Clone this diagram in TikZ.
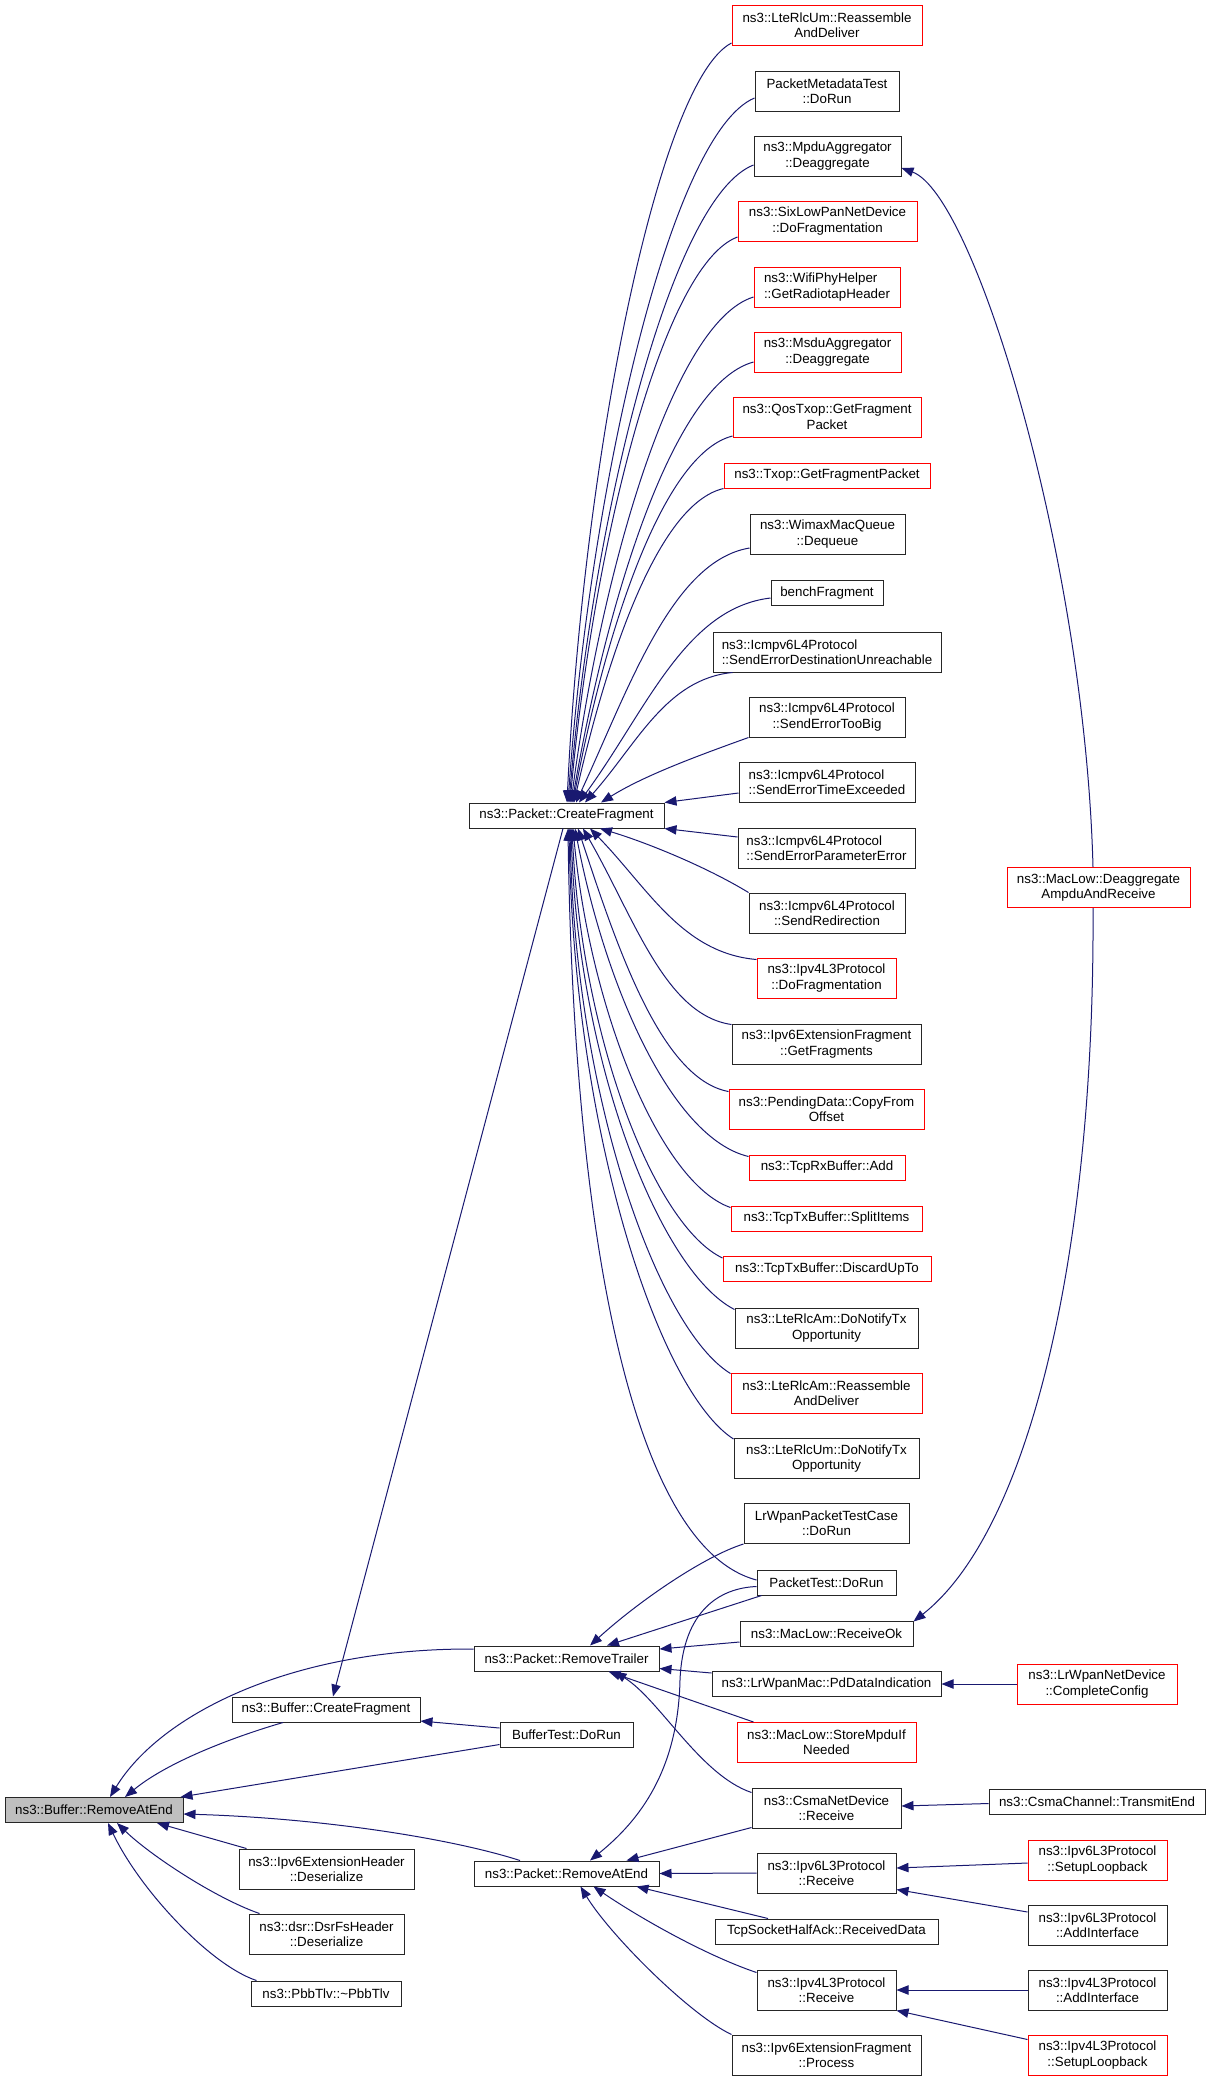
\documentclass[tikz,border=0pt]{standalone}
\usepackage{fontspec}
\setmainfont{Liberation Sans}
\usetikzlibrary{arrows.meta,calc}
\definecolor{midnightblue}{RGB}{25,25,112}
\begin{document}
\begin{tikzpicture}[x=0.75pt,y=-0.75pt,boxw/.style={minimum width=#1*0.75pt}]
    \tikzstyle{every node}+=[inner sep=1pt,font=\fontsize{10}{11.5}\selectfont]
    \tikzstyle{fn}=[draw=black!85,line width=0.75pt,minimum height=18.75pt,align=center]
    \tikzstyle{fn2}=[fn,minimum height=30pt]
    \tikzstyle{hot}=[draw=red]
    \tikzstyle{root}=[fill=black!25]
    \tikzstyle{call}=[midnightblue,line width=0.75pt,-{Triangle[length=9pt,width=7pt]}]
    \useasboundingbox (0,0) rectangle (1211,2081);
    \node [fn,root,boxw=178] (b0) at (94,1810) {ns3::Buffer::RemoveAtEnd};
    \node [fn,boxw=188] (bufCF) at (326,1709.5) {ns3::Buffer::CreateFragment};
    \node [fn2,boxw=175] (extHdr) at (326.5,1869) {ns3::Ipv6ExtensionHeader\\::Deserialize};
    \node [fn2,boxw=155] (dsrFs) at (326.5,1934) {ns3::dsr::DsrFsHeader\\::Deserialize};
    \node [fn,boxw=150] (pbbTlv) at (326,1993.5) {ns3::PbbTlv::\textasciitilde PbbTlv};
    \node [fn,boxw=195] (pktCF) at (566.5,815.5) {ns3::Packet::CreateFragment};
    \node [fn,boxw=185] (pktRT) at (566.5,1658.5) {ns3::Packet::RemoveTrailer};
    \node [fn,boxw=133] (bufTest) at (566.5,1734.5) {BufferTest::DoRun};
    \node [fn,boxw=185] (pktRAE) at (566.5,1873.5) {ns3::Packet::RemoveAtEnd};
    \node [fn2,hot,boxw=190] (umRD) at (827,25) {ns3::LteRlcUm::Reassemble\\AndDeliver};
    \node [fn2,boxw=144] (pmTest) at (827,91) {PacketMetadataTest\\::DoRun};
    \node [fn2,boxw=147] (mpduDeagg) at (827.5,156) {ns3::MpduAggregator\\::Deaggregate};
    \node [fn2,hot,boxw=179] (sixLowPan) at (827.5,221) {ns3::SixLowPanNetDevice\\::DoFragmentation};
    \node [fn2,hot,boxw=146,align=left] (wifiPhy) at (827,287) {ns3::WifiPhyHelper\\::GetRadiotapHeader};
    \node [fn2,hot,boxw=147] (msduDeagg) at (827.5,352) {ns3::MsduAggregator\\::Deaggregate};
    \node [fn2,hot,boxw=188] (qosTxop) at (827,417) {ns3::QosTxop::GetFragment\\Packet};
    \node [fn,hot,boxw=206] (txop) at (827,475.5) {ns3::Txop::GetFragmentPacket};
    \node [fn2,boxw=155] (wimaxQ) at (827.5,534) {ns3::WimaxMacQueue\\::Dequeue};
    \node [fn,boxw=112] (bench) at (827,593) {benchFragment};
    \node [fn2,boxw=228,align=left] (icmpDU) at (827,652) {ns3::Icmpv6L4Protocol\\::SendErrorDestinationUnreachable};
    \node [fn2,boxw=156] (icmpTB) at (827,717) {ns3::Icmpv6L4Protocol\\::SendErrorTooBig};
    \node [fn2,boxw=176,align=left] (icmpTE) at (827,782) {ns3::Icmpv6L4Protocol\\::SendErrorTimeExceeded};
    \node [fn2,boxw=177,align=left] (icmpPE) at (826.5,848) {ns3::Icmpv6L4Protocol\\::SendErrorParameterError};
    \node [fn2,boxw=156] (icmpRD) at (827,913) {ns3::Icmpv6L4Protocol\\::SendRedirection};
    \node [fn2,hot,boxw=139] (ipv4DF) at (826.5,978) {ns3::Ipv4L3Protocol\\::DoFragmentation};
    \node [fn2,boxw=189] (ipv6GF) at (826.5,1044) {ns3::Ipv6ExtensionFragment\\::GetFragments};
    \node [fn2,hot,boxw=195] (pdCopy) at (826.5,1109) {ns3::PendingData::CopyFrom\\Offset};
    \node [fn,hot,boxw=156] (rxAdd) at (827,1167.5) {ns3::TcpRxBuffer::Add};
    \node [fn,hot,boxw=191] (txSplit) at (826.5,1218.5) {ns3::TcpTxBuffer::SplitItems};
    \node [fn,hot,boxw=208] (txDiscard) at (827,1269) {ns3::TcpTxBuffer::DiscardUpTo};
    \node [fn2,boxw=183] (amNotify) at (826.5,1328) {ns3::LteRlcAm::DoNotifyTx\\Opportunity};
    \node [fn2,hot,boxw=191] (amRD) at (826.5,1393) {ns3::LteRlcAm::Reassemble\\AndDeliver};
    \node [fn2,boxw=185] (umNotify) at (826.5,1458.5) {ns3::LteRlcUm::DoNotifyTx\\Opportunity};
    \node [fn2,boxw=165] (lrTest) at (826.5,1523.5) {LrWpanPacketTestCase\\::DoRun};
    \node [fn,boxw=139] (pktTest) at (826.5,1582.5) {PacketTest::DoRun};
    \node [fn,boxw=173] (rxOk) at (826.5,1633.5) {ns3::MacLow::ReceiveOk};
    \node [fn,boxw=229] (pdData) at (826.5,1684) {ns3::LrWpanMac::PdDataIndication};
    \node [fn2,hot,boxw=179] (storeMpdu) at (826.5,1742.5) {ns3::MacLow::StoreMpduIf\\Needed};
    \node [fn2,boxw=149] (csmaRx) at (826.5,1808) {ns3::CsmaNetDevice\\::Receive};
    \node [fn2,boxw=139] (ipv6Rx) at (826.5,1873) {ns3::Ipv6L3Protocol\\::Receive};
    \node [fn,boxw=223] (halfAck) at (826.5,1931.5) {TcpSocketHalfAck::ReceivedData};
    \node [fn2,boxw=139] (ipv4Rx) at (826.5,1990) {ns3::Ipv4L3Protocol\\::Receive};
    \node [fn2,boxw=189] (ipv6Proc) at (826.5,2055) {ns3::Ipv6ExtensionFragment\\::Process};
    \node [fn2,hot,boxw=183] (macDeagg) at (1098.5,887.5) {ns3::MacLow::Deaggregate\\AmpduAndReceive};
    \node [fn2,hot,boxw=160] (lrCC) at (1097,1684) {ns3::LrWpanNetDevice\\::CompleteConfig};
    \node [fn,boxw=216] (csmaTE) at (1097,1801.5) {ns3::CsmaChannel::TransmitEnd};
    \node [fn2,hot,boxw=139] (ipv6Loop) at (1097.5,1860) {ns3::Ipv6L3Protocol\\::SetupLoopback};
    \node [fn2,boxw=139] (ipv6Add) at (1097.5,1925) {ns3::Ipv6L3Protocol\\::AddInterface};
    \node [fn2,boxw=139] (ipv4Add) at (1097.5,1990) {ns3::Ipv4L3Protocol\\::AddInterface};
    \node [fn2,hot,boxw=139] (ipv4Loop) at (1097.5,2055) {ns3::Ipv4L3Protocol\\::SetupLoopback};
    \draw [call] ($(umRD.west)+(0,18)$) .. controls (658,81) and (583,461) .. ($(pktCF.north)+(0.5,0)$);
    \draw [call] ($(pmTest.west)+(0,7)$) .. controls (671,133) and (590,486) .. ($(pktCF.north)+(1.5,0)$);
    \draw [call] ($(mpduDeagg.west)+(0,9)$) .. controls (671,197) and (593,516) .. ($(pktCF.north)+(2.5,0)$);
    \draw [call] ($(sixLowPan.west)+(0,16)$) .. controls (662,265) and (593,548) .. ($(pktCF.north)+(3.5,0)$);
    \draw [call] ($(wifiPhy.west)+(0,10)$) .. controls (672,322) and (601,575) .. ($(pktCF.north)+(4.5,0)$);
    \draw [call] ($(msduDeagg.west)+(0,10)$) .. controls (672,384) and (606,605) .. ($(pktCF.north)+(5.5,0)$);
    \draw [call] ($(qosTxop.west)+(0,19)$) .. controls (661,454) and (604,638) .. ($(pktCF.north)+(6.5,0)$);
    \draw [call] (txop.south west) .. controls (657,504) and (606,661) .. ($(pktCF.north)+(7.5,0)$);
    \draw [call] ($(wimaxQ.west)+(0,14)$) .. controls (672,561) and (629,688) .. ($(pktCF.north)+(9.5,0)$);
    \draw [call] ($(bench.west)+(0,5)$) .. controls (685,608) and (646,711) .. ($(pktCF.north)+(12.5,0)$);
    \draw [call] ($(icmpDU.south west)+(20,0)$) .. controls (666,679) and (637,744) .. ($(pktCF.north)+(18.5,0)$);
    \draw [call] (icmpTB.south west) .. controls (700,755) and (645,775) .. ($(pktCF.north)+(34.5,0)$);
    \draw [call] ($(icmpTE.west)+(0,11)$) -- (pktCF.north east);
    \draw [call] ($(icmpPE.west)+(0,-11)$) -- (pktCF.south east);
    \draw [call] (icmpRD.north west) .. controls (705,866) and (645,842) .. ($(pktCF.south)+(33.5,0)$);
    \draw [call] ($(ipv4DF.north west)+(0,2)$) .. controls (682,953) and (648,888) .. ($(pktCF.south)+(23.5,0)$);
    \draw [call] ($(ipv6GF.north west)+(0,1)$) .. controls (665,1015) and (634,917) .. ($(pktCF.south)+(16.5,0)$);
    \draw [call] ($(pdCopy.north west)+(0,3)$) .. controls (661,1079) and (617,947) .. ($(pktCF.south)+(11.5,0)$);
    \draw [call] ($(rxAdd.north west)+(0,2)$) .. controls (671,1138) and (605,985) .. ($(pktCF.south)+(8.5,0)$);
    \draw [call] ($(txSplit.north west)+(0,2)$) .. controls (660,1183) and (590,1010) .. ($(pktCF.south)+(6.5,0)$);
    \draw [call] ($(txDiscard.north west)+(0,2)$) .. controls (655,1226) and (582,1040) .. ($(pktCF.south)+(5.5,0)$);
    \draw [call] ($(amNotify.north west)+(0,2)$) .. controls (661,1272) and (578,1065) .. ($(pktCF.south)+(4.5,0)$);
    \draw [call] ($(amRD.north west)+(0,1)$) .. controls (659,1330) and (575,1100) .. ($(pktCF.south)+(3.5,0)$);
    \draw [call] ($(umNotify.north west)+(0,1)$) .. controls (659,1391) and (574,1134) .. ($(pktCF.south)+(2.5,0)$);
    \draw [call] ($(pktTest.west)+(0,-2.5)$) .. controls (625,1545) and (573,1204) .. ($(pktCF.south)+(1.5,0)$);
    \draw [call] ($(pktCF.south)+(-3.5,0)$) -- ($(bufCF.north)+(7,0)$);
    \draw [call] ($(bufTest.west)+(0,-6.5)$) -- ($(bufCF.east)+(0,11.5)$);
    \draw [call] ($(pktRT.west)+(0,-9.5)$) .. controls (290,1648) and (160,1715) .. ($(b0.north)+(16,0)$);
    \draw [call] ($(bufCF.south)+(-43,0)$) .. controls (240,1735) and (170,1760) .. ($(b0.north)+(31,0)$);
    \draw [call] ($(bufTest.south west)+(0,-3)$) -- ($(b0.north east)+(-3,0)$);
    \draw [call] ($(pktRAE.north)+(-46.5,0)$) .. controls (450,1838) and (320,1818) .. ($(b0.east)+(0,4)$);
    \draw [call] ($(extHdr.north west)+(8,0)$) -- ($(b0.south)+(63,0)$);
    \draw [call] ($(dsrFs.north west)+(11,0)$) .. controls (215,1898) and (150,1855) .. ($(b0.south)+(23,0)$);
    \draw [call] ($(pbbTlv.north west)+(6,0)$) .. controls (210,1965) and (140,1890) .. ($(b0.south)+(14,0)$);
    \draw [call] (lrTest.south west) .. controls (705,1556) and (640,1600) .. ($(pktRT.north)+(23.5,0)$);
    \draw [call] ($(pktTest.south west)+(5,0)$) -- ($(pktRT.north)+(40.5,0)$);
    \draw [call] ($(rxOk.west)+(0,8.5)$) -- ($(pktRT.east)+(0,-9.5)$);
    \draw [call] ($(pdData.west)+(0,-11)$) -- ($(pktRT.east)+(0,10)$);
    \draw [call] ($(storeMpdu.north west)+(17,0)$) -- ($(pktRT.south)+(42,0)$);
    \draw [call] ($(csmaRx.north west)+(0,5)$) .. controls (700,1775) and (660,1700) .. ($(pktRT.south)+(48,0)$);
    \draw [call] ($(pktTest.west)+(0,4)$) .. controls (720,1588) and (683,1610) .. (680,1680) .. controls (678,1770) and (640,1820) .. ($(pktRAE.north)+(23.5,0)$);
    \draw [call] ($(csmaRx.south west)+(0,-1)$) -- ($(pktRAE.north)+(60,0)$);
    \draw [call] (ipv6Rx.west) -- (pktRAE.east);
    \draw [call] ($(halfAck.north)+(-58.5,0)$) -- ($(pktRAE.south)+(70,0)$);
    \draw [call] ($(ipv4Rx.north west)+(0,3)$) .. controls (705,1955) and (640,1918) .. ($(pktRAE.south)+(27,0)$);
    \draw [call] (ipv6Proc.north west) .. controls (690,2015) and (610,1935) .. ($(pktRAE.south)+(14,0)$);
    \draw [call] ($(macDeagg.north)+(-5.5,0)$) .. controls (1085,560) and (975,195) .. ($(mpduDeagg.east)+(0,12)$);
    \draw [call] ($(macDeagg.south)+(-5.5,0)$) .. controls (1095,1250) and (1030,1530) .. ($(rxOk.north east)+(0,1)$);
    \draw [call] (lrCC.west) -- (pdData.east);
    \draw [call] ($(csmaTE.west)+(0,2)$) -- ($(csmaRx.east)+(0,-2)$);
    \draw [call] ($(ipv6Loop.west)+(0,3)$) -- ($(ipv6Rx.east)+(0,-5)$);
    \draw [call] ($(ipv6Add.west)+(0,-13)$) -- ($(ipv6Rx.south east)+(0,-4)$);
    \draw [call] (ipv4Add.west) -- (ipv4Rx.east);
    \draw [call] ($(ipv4Loop.north west)+(0,5)$) -- (ipv4Rx.south east);
\end{tikzpicture}
\end{document}
